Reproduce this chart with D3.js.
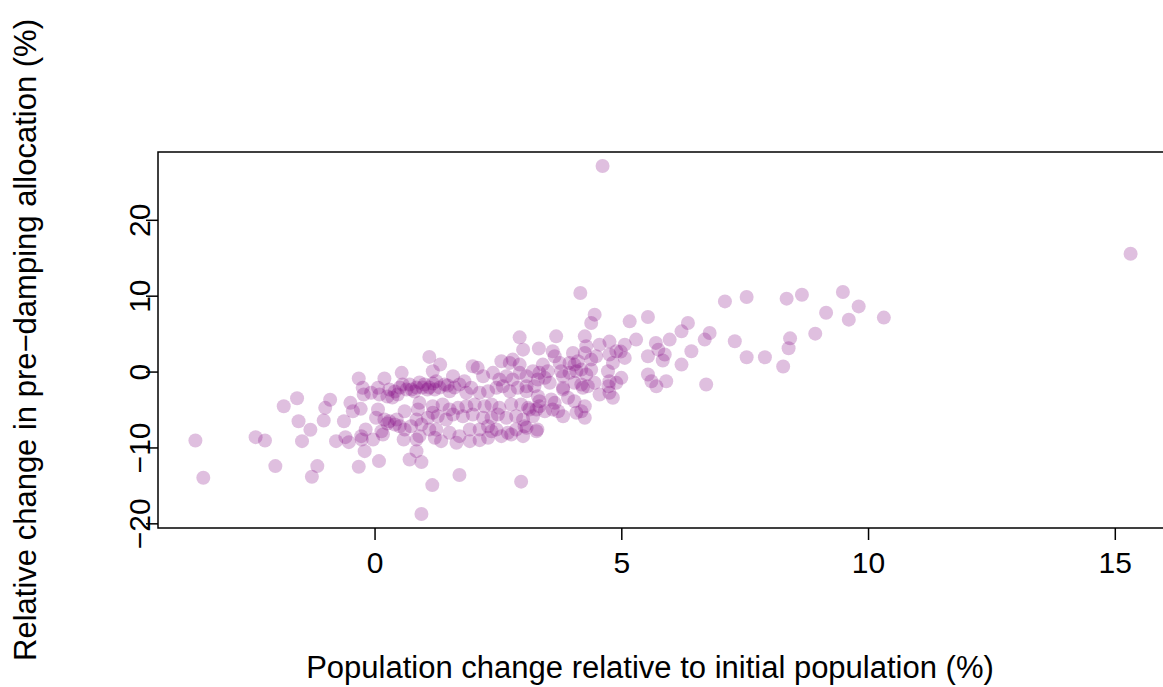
<!DOCTYPE html>
<html>
<head>
    <title></title>
    <meta charset="utf-8" />
    <style>
        body { margin: 0; background: #fff; overflow: hidden; }
        svg { display: block; }
        svg text { font-family: "Liberation Sans", Arial, sans-serif; fill: #000; }
    </style>
    <script src="https://d3js.org/d3.v7.min.js"></script>
</head>
<body>

<svg id="svg"></svg>

<script>

// population change relative to initial population (%)
let popChange = [
    -3.63, -3.47, -2.41, -2.22, -2.01, -1.84, -1.57, -1.54, -1.47, -1.30,
    -1.27, -1.16, -1.03, -1.00, -0.90, -0.78, -0.62, -0.59, -0.52, -0.49,
    -0.32, -0.32, -0.28, -0.26, -0.20, -0.18, -0.22, -0.24, -0.44, -0.03,
    -0.07, -0.27, 0.09, 0.17, 0.59, 0.71, 0.85, 0.95, 0.95, 1.17,
    1.72, 2.97, 1.11, 1.33, 0.55, 0.20, 0.07, 1.18, 0.10, 0.26,
    0.36, 0.47, 0.41, 0.57, 0.65, 0.71, 0.75, 0.85, 0.91, 0.97,
    1.07, 1.18, 1.22, 1.32, 1.25, 1.42, 1.52, 1.59, 1.72, 1.82,
    1.86, 1.96, 1.99, 2.09, 2.13, 2.20, 2.30, 2.40, 2.47, 2.53,
    2.60, 2.67, 2.74, 2.80, 2.90, 2.94, 3.08, 3.08, 0.30, 0.51,
    0.81, 1.01, 1.11, 1.48, 1.62, 0.03, 0.07, 0.14, 0.20, 0.30,
    0.41, 0.51, 0.61, 0.61, 0.74, 0.85, 0.85, 0.88, 0.91, 0.91,
    0.95, 1.08, 1.18, 1.11, 1.22, 1.18, 1.38, 1.52, 1.69, 1.86,
    2.03, 2.23, 2.37, 2.53, 2.77, 2.97, 3.14, 1.28, 1.45, 1.59,
    1.79, 1.99, 2.20, 2.37, 2.50, 2.67, 2.87, 3.01, 1.25, 1.52,
    1.72, 1.93, 2.13, 2.30, 2.47, 2.70, 2.87, 3.04, 1.35, 1.66,
    1.93, 2.30, 2.57, 2.77, 3.01, 2.13, 3.28, 2.37, 0.26, 0.45,
    2.94, 3.33, 3.30, 3.68, 4.26, 4.29, 3.65, 3.41, 3.75, 4.05,
    4.19, 3.95, 2.57, 2.74, 2.80, 2.94, 3.34, 3.31, 3.55, 3.82,
    4.05, 4.22, 3.58, 3.61, 3.34, 3.28, 3.11, 3.82, 3.72, 4.26,
    4.09, 4.46, 4.39, 4.56, 4.90, 3.01, 3.61, 4.02, 4.12, 4.26,
    4.39, 4.49, 4.76, 4.83, 3.95, 3.21, 3.45, 3.51, 3.78, 3.82,
    4.09, 4.29, 4.39, 4.73, 4.76, 4.90, 4.19, 4.46, 4.56, 4.76,
    3.08, 3.24, 3.31, 3.65, 3.82, 3.92, 4.05, 3.34, 3.45, 3.21,
    4.19, 3.08, 4.17, 7.10, 7.54, 5.17, 5.54, 6.35, 6.79, 6.22,
    5.98, 6.69, 7.30, 7.54, 6.42, 6.22, 5.70, 5.75, 5.88, 5.84,
    5.54, 5.30, 5.07, 4.99, 4.76, 5.54, 5.61, 5.71, 5.91, 6.72,
    5.00, 4.74, 4.83, 4.26, 4.32, 5.07, 8.35, 8.66, 9.49, 9.81,
    9.15, 9.61, 10.32, 7.91, 8.28, 8.42, 8.39, 8.93, 15.32, 4.62
];

// relative change in pre-damping allocation (%)
let allocChange = [
    -9.08, -13.99, -8.64, -9.08, -12.46, -4.57, -3.51, -6.54, -9.17, -7.67,
    -13.86, -12.46, -6.45, -4.78, -3.72, -9.17, -6.54, -8.64, -9.30, -4.12,
    -0.92, -12.54, -4.91, -8.95, -10.49, -7.63, -3.03, -2.14, -5.22, -8.95,
    -2.80, -8.51, -11.80, -8.29, -8.95, -11.58, -10.49, -11.93, -18.78, -14.96,
    -13.64, -14.51, 1.93, 0.92, -0.17, -0.92, -2.14, 0.04, -3.03, -3.29,
    -3.42, -3.03, -2.63, -1.71, -2.37, -1.71, -2.37, -2.11, -1.45, -2.11,
    -2.37, -1.58, -2.37, -2.11, -1.28, -1.71, -2.59, -0.62, -1.71, -1.28,
    -2.80, -2.14, 0.70, 0.49, -2.80, -0.62, -2.59, -0.17, -2.14, -1.05,
    -1.93, -0.62, -2.59, -1.05, -2.14, -0.17, -0.62, -2.59, -2.37, -2.11,
    -2.63, -1.71, -2.11, -1.84, -2.11, -6.09, -5.00, -7.86, -6.32, -6.54,
    -6.97, -7.20, -5.22, -7.63, -7.20, -6.32, -8.95, -5.00, -4.12, -8.51,
    -6.97, -6.09, -5.43, -7.63, -8.72, -4.57, -4.34, -5.00, -4.78, -4.57,
    -4.34, -4.57, -4.34, -4.78, -4.34, -4.34, -5.00, -5.88, -6.32, -5.66,
    -5.88, -5.66, -6.09, -6.09, -5.66, -6.09, -5.88, -6.32, -7.63, -8.07,
    -8.51, -7.63, -7.63, -7.20, -7.63, -8.07, -7.63, -7.20, -9.17, -9.38,
    -9.17, -8.72, -8.51, -8.29, -8.51, -9.04, -7.86, -7.86, -6.84, -6.32,
    4.51, 3.03, -7.63, 4.64, 4.64, 3.33, 2.01, 0.92, 1.14, 0.92,
    0.26, -0.17, 1.36, 1.14, 1.58, 0.92, -0.17, -1.05, -1.49, -2.14,
    -1.49, -2.14, -3.68, -5.00, -3.91, -5.00, -4.78, -5.88, -5.22, -6.09,
    -5.43, 7.50, 6.41, 3.55, 2.67, 2.89, 2.67, 2.46, 1.36, 2.46,
    1.58, 2.01, 2.24, 1.14, 1.14, 0.04, -0.83, 0.04, 0.04, -0.62,
    0.04, -0.39, 0.26, 0.04, -1.28, -1.49, -1.71, -1.49, -3.03, -2.80,
    -1.93, -1.93, -3.25, -4.12, -2.37, -3.46, -3.91, -4.57, -5.22, -5.88,
    -5.22, -7.41, 10.36, 9.25, 9.83, 6.62, 7.20, 6.41, 5.09, 5.30,
    4.21, 4.21, 3.99, 1.88, 2.67, 0.92, 3.78, 2.89, 2.24, 1.45,
    2.01, 4.21, 3.55, 2.63, 3.95, -0.39, -1.28, -1.93, -1.28, -1.71,
    -0.83, -1.93, -3.46, -4.57, -1.93, 1.80, 9.61, 10.13, 10.49, 8.59,
    7.76, 6.84, 7.11, 1.88, 0.66, 4.38, 3.07, 5.00, 15.53, 27.10
];

let xTicks = [0, 5, 10, 15];
let yTicks = [-20, -10, 0, 10, 20];

let xTitle = "Population change relative to initial population (%)";
let yTitle = "Relative change in pre\u2212damping allocation (%)";

let realW = 1163;
let realH = 687;

// plot region (R-like margins)
let plotL = 158, plotR = 1168, plotT = 152, plotB = 528;

let svg = d3.select("#svg")
    .attr("width", realW)
    .attr("height", realH);

// R pads the data range by 4% on each side
function padded(values) {
    let ext = d3.extent(values);
    let pad = (ext[1] - ext[0]) * 0.04;
    return [ext[0] - pad, ext[1] + pad];
}

let x = d3.scaleLinear().domain(padded(popChange)).range([plotL, plotR]);
let y = d3.scaleLinear().domain(padded(allocChange)).range([plotB, plotT]);

let points = popChange.map((d, i) => ({ x: d, y: allocChange[i] }));

svg.selectAll(".pt")
    .data(points)
    .enter()
    .append("circle")
    .attr("class", "pt")
    .attr("cx", d => x(d.x))
    .attr("cy", d => y(d.y))
    .attr("r", 7)
    .attr("fill", "#800080")
    .attr("fill-opacity", 0.25);

// box
svg.append("rect")
    .attr("x", plotL)
    .attr("y", plotT)
    .attr("width", plotR - plotL)
    .attr("height", plotB - plotT)
    .attr("fill", "none")
    .attr("stroke", "#000")
    .attr("stroke-width", 1.5);

let fmt = d3.format("d");

let xAxis = svg.append("g")
    .attr("transform", "translate(0," + plotB + ")")
    .call(d3.axisBottom(x).tickValues(xTicks).tickFormat(fmt).tickSize(12).tickPadding(12));
xAxis.select(".domain").remove();
xAxis.selectAll("line").attr("stroke-width", 1.5);
xAxis.selectAll("text").attr("font-size", 30).attr("font-family", "Liberation Sans, Arial, sans-serif");

let yAxis = svg.append("g")
    .attr("transform", "translate(" + plotL + ",0)")
    .call(d3.axisLeft(y).tickValues(yTicks).tickFormat(fmt).tickSize(12));
yAxis.select(".domain").remove();
yAxis.selectAll("line").attr("stroke-width", 1.5);
// R draws y tick labels parallel to the axis
yAxis.selectAll("text")
    .attr("font-size", 30)
    .attr("font-family", "Liberation Sans, Arial, sans-serif")
    .attr("x", null).attr("dy", null)
    .attr("text-anchor", "middle")
    .attr("transform", "translate(-8,0) rotate(-90)")
    .attr("y", 0);

// axis titles
svg.append("text")
    .attr("x", 650)
    .attr("y", 678)
    .attr("text-anchor", "middle")
    .attr("font-size", 31)
    .text(xTitle);

svg.append("text")
    .attr("transform", "translate(36," + ((plotT + plotB) / 2) + ") rotate(-90)")
    .attr("text-anchor", "middle")
    .attr("font-size", 31)
    .text(yTitle);

</script>

</body>
</html>
